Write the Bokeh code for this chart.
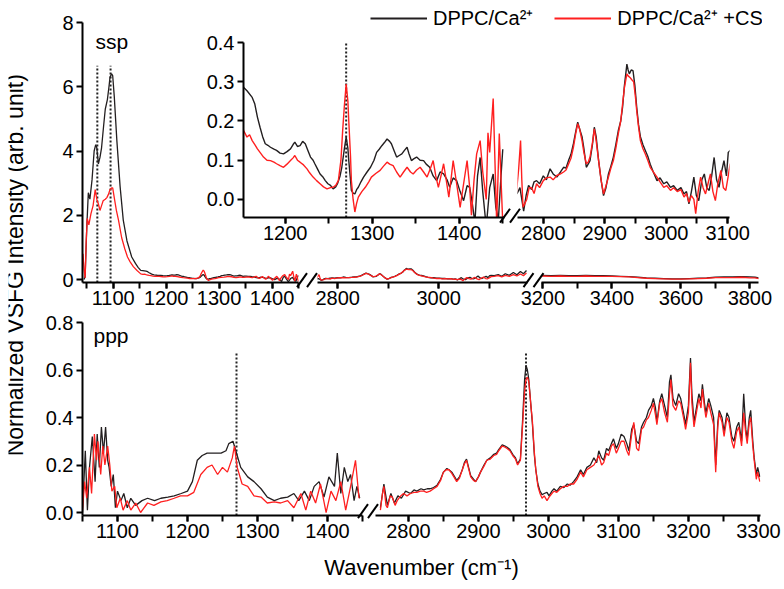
import numpy as np
from math import pi
from bokeh.plotting import figure
from bokeh.models import (Column, Range1d, LinearAxis, SingleIntervalTicker, FixedTicker,
                          PrintfTickFormatter, Label, Legend, LegendItem, Grid)
from bokeh.embed import file_html
from bokeh.resources import INLINE

FONT = "Liberation Sans"
BLACK = "#231f20"
RED = "#ff1f1f"

# ---------------- data (wavenumber, intensity) ----------------
# ssp, low-frequency segment (1042-1450)
ssp_black_A = [
    (1045, 0.0), (1047, 0.1), (1050, 1.6), (1053, 2.7), (1056, 2.5), (1060, 3.1), (1064, 4.0),
    (1067, 4.2), (1069, 4.1), (1072, 3.6), (1075, 3.8), (1078, 4.1), (1082, 4.8), (1085, 5.3),
    (1089, 5.6), (1092, 6.0), (1094, 6.3), (1097, 6.4), (1099, 6.35), (1102, 5.7), (1107, 4.3),
    (1113, 2.9), (1119, 1.85), (1126, 1.2), (1135, 0.7), (1142, 0.5), (1147, 0.38),
    (1152, 0.286), (1156, 0.277), (1162, 0.26), (1165, 0.243), (1168, 0.21), (1171, 0.184),
    (1174, 0.16), (1177, 0.142), (1180, 0.138), (1183, 0.133), (1187, 0.128), (1190, 0.125),
    (1194, 0.118), (1198, 0.116), (1202, 0.122), (1206, 0.129), (1209, 0.14), (1211, 0.146),
    (1214, 0.135), (1217, 0.137), (1220, 0.148), (1223, 0.142), (1226, 0.125), (1229, 0.108),
    (1232, 0.1), (1234, 0.091), (1237, 0.078), (1240, 0.065), (1243, 0.058), (1246, 0.048),
    (1249, 0.04), (1252, 0.036), (1255, 0.027), (1258, 0.032), (1260, 0.04), (1263, 0.06),
    (1265, 0.082), (1268, 0.13), (1270, 0.159), (1272, 0.13), (1273, 0.099), (1275, 0.05),
    (1276, 0.023), (1278, 0.016), (1280, 0.014), (1282, 0.025), (1284, 0.031), (1287, 0.045),
    (1290, 0.057), (1294, 0.07), (1298, 0.082), (1302, 0.1), (1305, 0.12), (1308, 0.128),
    (1311, 0.137), (1314, 0.145), (1317, 0.154), (1320, 0.148), (1322, 0.142), (1325, 0.125),
    (1328, 0.108), (1331, 0.112), (1334, 0.116), (1337, 0.125), (1340, 0.133), (1342, 0.118),
    (1345, 0.099), (1348, 0.104), (1351, 0.108), (1355, 0.1), (1359, 0.099), (1362, 0.09),
    (1366, 0.082), (1370, 0.06), (1374, 0.048), (1378, 0.07), (1382, 0.065), (1386, 0.05),
    (1389, 0.031), (1393, 0.055), (1397, 0.048), (1401, 0.02), (1405, -0.003), (1409, 0.035),
    (1412, 0.031), (1415, -0.01), (1418, -0.06), (1421, 0.06), (1424, 0.107), (1427, 0.02),
    (1431, -0.07), (1435, 0.03), (1439, 0.065), (1442, -0.02), (1445, -0.05), (1448, 0.06),
    (1450, 0.128),
]
ssp_red_A = [
    (1043, 0.8), (1045, 0.3), (1047, 0.05), (1049, 1.2), (1051, 1.9), (1054, 1.7), (1058, 2.05),
    (1062, 2.3), (1066, 2.8), (1069, 2.5), (1072, 2.35), (1075, 2.15), (1078, 2.3), (1081, 2.45),
    (1085, 2.5), (1088, 2.55), (1091, 2.65), (1094, 2.8), (1097, 2.85), (1099, 2.85), (1103, 2.45),
    (1106, 2.15), (1110, 1.85), (1116, 1.3), (1122, 0.95), (1127, 0.7), (1132, 0.55), (1138, 0.4),
    (1145, 0.28),
    (1152, 0.176), (1156, 0.159), (1159, 0.165), (1162, 0.15), (1165, 0.14), (1168, 0.129),
    (1171, 0.12), (1175, 0.108), (1179, 0.1), (1183, 0.099), (1187, 0.095), (1190, 0.091),
    (1194, 0.086), (1198, 0.082), (1202, 0.09), (1206, 0.099), (1209, 0.106), (1211, 0.112),
    (1214, 0.1), (1217, 0.095), (1221, 0.088), (1225, 0.078), (1228, 0.068), (1232, 0.057),
    (1236, 0.048), (1240, 0.04), (1244, 0.032), (1248, 0.027), (1252, 0.03), (1255, 0.031),
    (1258, 0.036), (1261, 0.048), (1264, 0.1), (1266, 0.176), (1268, 0.24), (1270, 0.294),
    (1272, 0.25), (1273, 0.2), (1275, 0.11), (1276, 0.048), (1278, 0.0), (1280, -0.032),
    (1282, -0.01), (1284, 0.006), (1288, 0.02), (1292, 0.031), (1296, 0.045), (1299, 0.057),
    (1304, 0.066), (1309, 0.074), (1313, 0.085), (1317, 0.095), (1320, 0.09), (1324, 0.086),
    (1328, 0.07), (1332, 0.057), (1336, 0.07), (1340, 0.082), (1344, 0.07), (1347, 0.065),
    (1351, 0.075), (1355, 0.082), (1359, 0.07), (1363, 0.057), (1367, 0.08), (1370, 0.099),
    (1373, 0.06), (1376, 0.031), (1379, 0.06), (1382, 0.091), (1385, 0.05), (1388, 0.006),
    (1391, 0.06), (1393, 0.099), (1397, 0.04), (1401, -0.02), (1405, 0.04), (1409, 0.099),
    (1412, 0.03), (1414, -0.04), (1417, 0.05), (1420, 0.116), (1424, 0.15), (1427, 0.07),
    (1431, 0.0), (1433, 0.17), (1435, 0.12), (1439, 0.257), (1441, 0.1), (1443, -0.06),
    (1446, 0.168), (1448, 0.05), (1450, -0.06),
]
# ssp, C-H segment (2756-3176)
ssp_black_B = [
    (2757, 0.014), (2762, 0.03), (2768, -0.03), (2772, 0.01), (2776, 0.036), (2781, 0.025),
    (2785, 0.045), (2789, 0.048), (2794, 0.04), (2800, 0.06), (2805, 0.05), (2811, 0.078),
    (2816, 0.065), (2822, 0.057), (2828, 0.07), (2833, 0.082), (2837, 0.08), (2841, 0.099),
    (2845, 0.115), (2849, 0.142), (2853, 0.175), (2856, 0.197), (2859, 0.18), (2863, 0.16),
    (2866, 0.13), (2870, 0.082), (2873, 0.09), (2876, 0.099), (2880, 0.14), (2883, 0.184),
    (2886, 0.16), (2890, 0.099), (2894, 0.05), (2898, 0.01), (2902, 0.03), (2906, 0.065),
    (2910, 0.085), (2914, 0.108), (2918, 0.14), (2922, 0.175), (2926, 0.2), (2929, 0.235),
    (2932, 0.29), (2936, 0.345), (2938, 0.33), (2940, 0.32), (2943, 0.33), (2946, 0.328),
    (2949, 0.29), (2952, 0.235), (2955, 0.19), (2958, 0.16), (2962, 0.14), (2966, 0.125),
    (2970, 0.11), (2974, 0.09), (2979, 0.07), (2985, 0.048), (2990, 0.055), (2996, 0.04),
    (3001, 0.045), (3007, 0.031), (3012, 0.035), (3018, 0.023), (3024, 0.03), (3029, 0.014),
    (3033, 0.02), (3037, -0.011), (3041, 0.02), (3045, 0.057), (3049, 0.01), (3053, -0.003),
    (3058, 0.05), (3062, 0.065), (3066, 0.03), (3070, 0.023), (3074, 0.06), (3078, 0.107),
    (3082, 0.05), (3086, 0.031), (3090, 0.07), (3094, 0.099), (3098, 0.06), (3101, 0.12),
    (3104, 0.125), (3110, 0.12), (3118, 0.15), (3125, 0.1), (3132, 0.18), (3140, 0.13),
    (3148, 0.22), (3155, 0.15), (3162, 0.25), (3168, 0.18), (3174, 0.28),
]
ssp_red_B = [
    (2756, 0.014), (2760, 0.08), (2763, 0.15), (2765, 0.05), (2767, -0.02), (2770, -0.01),
    (2773, 0.0), (2777, 0.03), (2781, 0.03), (2785, 0.015), (2789, 0.04), (2794, 0.03),
    (2800, 0.048), (2805, 0.055), (2811, 0.057), (2816, 0.05), (2822, 0.061), (2828, 0.065),
    (2833, 0.07), (2837, 0.075), (2841, 0.09), (2845, 0.105), (2849, 0.133), (2853, 0.17),
    (2856, 0.193), (2859, 0.18), (2863, 0.15), (2866, 0.12), (2870, 0.091), (2873, 0.095),
    (2876, 0.108), (2880, 0.145), (2883, 0.18), (2886, 0.15), (2890, 0.099), (2894, 0.05),
    (2898, 0.014), (2902, 0.035), (2906, 0.057), (2910, 0.08), (2914, 0.099), (2918, 0.13),
    (2922, 0.167), (2926, 0.2), (2929, 0.243), (2932, 0.285), (2936, 0.32), (2938, 0.315),
    (2941, 0.311), (2944, 0.305), (2947, 0.3), (2950, 0.26), (2952, 0.226), (2955, 0.185),
    (2958, 0.15), (2962, 0.13), (2966, 0.116), (2970, 0.1), (2974, 0.082), (2979, 0.07),
    (2985, 0.057), (2990, 0.045), (2996, 0.031), (3001, 0.035), (3007, 0.023), (3012, 0.03),
    (3018, 0.02), (3024, 0.025), (3029, 0.006), (3033, 0.015), (3037, -0.007), (3041, 0.01),
    (3045, 0.0), (3048, -0.036), (3052, 0.02), (3056, 0.057), (3060, 0.03), (3064, 0.014),
    (3068, 0.04), (3072, 0.065), (3076, 0.02), (3080, -0.003), (3084, 0.04), (3089, 0.074),
    (3093, 0.03), (3097, 0.023), (3101, 0.06), (3104, 0.09), (3110, 0.1), (3118, 0.12),
    (3125, 0.08), (3132, 0.13), (3140, 0.1), (3148, 0.15), (3155, 0.11), (3162, 0.17),
    (3168, 0.12), (3174, 0.2),
]
# ssp, O-H segment (3196-3826)
ssp_black_C = [
    (3196, 0.13), (3225, 0.12), (3250, 0.13), (3275, 0.12), (3300, 0.12), (3325, 0.13),
    (3350, 0.12), (3375, 0.12), (3400, 0.11), (3425, 0.1), (3450, 0.09), (3475, 0.07),
    (3500, 0.05), (3525, 0.04), (3550, 0.03), (3575, 0.02), (3600, 0.02), (3625, 0.03),
    (3650, 0.04), (3675, 0.05), (3700, 0.07), (3725, 0.08), (3750, 0.08), (3775, 0.09),
    (3800, 0.08), (3815, 0.07), (3826, 0.05),
]
ssp_red_C = [
    (3196, 0.11), (3225, 0.1), (3250, 0.11), (3275, 0.1), (3300, 0.1), (3325, 0.11),
    (3350, 0.1), (3375, 0.1), (3400, 0.1), (3425, 0.09), (3450, 0.08), (3475, 0.06),
    (3500, 0.04), (3525, 0.03), (3550, 0.02), (3575, 0.01), (3600, 0.01), (3625, 0.02),
    (3650, 0.03), (3675, 0.04), (3700, 0.06), (3725, 0.06), (3750, 0.06), (3775, 0.07),
    (3800, 0.05), (3815, 0.05), (3826, 0.03),
]
# ppp, low-frequency segment
ppp_black_A = [
    (1050, 0.0), (1054, 0.26), (1057, 0.01), (1060, 0.19), (1064, 0.32), (1068, 0.13),
    (1071, 0.33), (1074, 0.19), (1077, 0.36), (1080, 0.25), (1083, 0.36), (1086, 0.22),
    (1088, 0.19), (1091, 0.11), (1094, 0.16), (1097, 0.02), (1100, 0.09), (1105, 0.05),
    (1109, 0.08), (1114, 0.02), (1119, 0.06), (1126, 0.03), (1135, 0.05), (1143, 0.06),
    (1153, 0.05), (1162, 0.06), (1172, 0.065), (1181, 0.07), (1191, 0.08), (1200, 0.09),
    (1207, 0.13), (1214, 0.22), (1221, 0.24), (1228, 0.25), (1238, 0.25), (1248, 0.25),
    (1255, 0.26), (1259, 0.29), (1265, 0.3), (1269, 0.26), (1276, 0.19), (1286, 0.15),
    (1295, 0.13), (1305, 0.1), (1314, 0.065), (1324, 0.05), (1333, 0.06), (1343, 0.065),
    (1352, 0.08), (1359, 0.05), (1367, 0.09), (1374, 0.05), (1381, 0.11), (1388, 0.13),
    (1395, 0.065), (1402, 0.15), (1410, 0.11), (1414, 0.25), (1419, 0.08), (1424, 0.19),
    (1429, 0.13), (1433, 0.16), (1438, 0.05), (1442, 0.11), (1446, 0.06),
]
ppp_red_A = [
    (1050, 0.01), (1053, 0.13), (1056, 0.06), (1060, 0.19), (1063, 0.08), (1067, 0.33),
    (1070, 0.22), (1072, 0.3), (1076, 0.16), (1079, 0.28), (1082, 0.2), (1086, 0.28),
    (1089, 0.2), (1092, 0.09), (1096, 0.11), (1099, 0.02), (1104, 0.06), (1108, 0.01),
    (1114, 0.05), (1119, 0.01), (1126, 0.04), (1133, 0.0), (1143, 0.04), (1152, 0.03),
    (1162, 0.045), (1171, 0.05), (1181, 0.06), (1190, 0.07), (1200, 0.07), (1209, 0.085),
    (1219, 0.16), (1228, 0.19), (1235, 0.2), (1243, 0.16), (1250, 0.19), (1257, 0.17),
    (1264, 0.23), (1267, 0.28), (1271, 0.19), (1278, 0.12), (1286, 0.11), (1295, 0.07),
    (1305, 0.065), (1314, 0.04), (1324, 0.045), (1333, 0.04), (1343, 0.05), (1352, 0.02),
    (1362, 0.08), (1369, 0.01), (1376, 0.09), (1383, 0.04), (1390, 0.12), (1398, 0.0),
    (1405, 0.09), (1412, 0.05), (1419, 0.13), (1426, 0.01), (1433, 0.11), (1440, 0.22),
    (1445, 0.06),
]
# ppp, C-H / O-H segment
ppp_black_B = [
    (2760, 0.02), (2765, 0.12), (2770, 0.03), (2775, 0.08), (2780, 0.04), (2785, 0.07),
    (2790, 0.06), (2796, 0.09), (2803, 0.08), (2808, 0.095), (2812, 0.09), (2818, 0.1),
    (2822, 0.095), (2827, 0.1), (2831, 0.1), (2836, 0.105), (2841, 0.115), (2846, 0.14),
    (2850, 0.17), (2855, 0.185), (2858, 0.18), (2862, 0.17), (2865, 0.155), (2869, 0.135),
    (2873, 0.15), (2877, 0.18), (2880, 0.21), (2883, 0.225), (2886, 0.19), (2889, 0.155),
    (2893, 0.14), (2896, 0.13), (2900, 0.15), (2903, 0.17), (2908, 0.2), (2912, 0.22),
    (2917, 0.23), (2922, 0.245), (2926, 0.25), (2929, 0.265), (2934, 0.285), (2938, 0.28),
    (2941, 0.275), (2945, 0.265), (2949, 0.245), (2953, 0.23), (2956, 0.205), (2960, 0.225),
    (2963, 0.38), (2966, 0.56), (2968, 0.62), (2970, 0.6), (2972, 0.56), (2975, 0.45),
    (2977, 0.38), (2980, 0.24), (2982, 0.18), (2985, 0.12), (2988, 0.09), (2991, 0.075),
    (2994, 0.08), (2998, 0.085), (3001, 0.07), (3005, 0.09), (3008, 0.1), (3012, 0.09),
    (3017, 0.11), (3022, 0.105), (3027, 0.12), (3031, 0.115), (3036, 0.13), (3041, 0.15),
    (3046, 0.18), (3050, 0.16), (3055, 0.19), (3060, 0.2), (3065, 0.23), (3069, 0.21),
    (3072, 0.26), (3076, 0.23), (3079, 0.22), (3083, 0.27), (3086, 0.26), (3090, 0.29),
    (3093, 0.31), (3097, 0.27), (3100, 0.29), (3104, 0.33), (3108, 0.32), (3112, 0.29),
    (3115, 0.26), (3119, 0.35), (3122, 0.37), (3126, 0.3), (3129, 0.29), (3133, 0.36),
    (3136, 0.38), (3140, 0.4), (3143, 0.43), (3147, 0.45), (3150, 0.48), (3153, 0.44),
    (3155, 0.38), (3159, 0.47), (3162, 0.5), (3166, 0.45), (3170, 0.4), (3173, 0.55),
    (3175, 0.58), (3178, 0.48), (3182, 0.45), (3186, 0.5), (3189, 0.48), (3193, 0.42),
    (3196, 0.37), (3200, 0.45), (3203, 0.65), (3205, 0.5), (3208, 0.38), (3212, 0.45),
    (3215, 0.5), (3218, 0.47), (3220, 0.54), (3223, 0.46), (3225, 0.42), (3229, 0.48),
    (3232, 0.45), (3236, 0.4), (3239, 0.2), (3242, 0.38), (3244, 0.43), (3248, 0.4),
    (3251, 0.34), (3255, 0.42), (3258, 0.4), (3262, 0.32), (3265, 0.3), (3269, 0.36),
    (3272, 0.38), (3276, 0.3), (3279, 0.5), (3282, 0.35), (3284, 0.31), (3287, 0.4),
    (3289, 0.43), (3292, 0.3), (3294, 0.23), (3297, 0.16), (3299, 0.19), (3302, 0.15),
]
ppp_red_B = [
    (2760, 0.01), (2763, 0.08), (2765, 0.11), (2768, 0.03), (2770, 0.02), (2774, 0.07),
    (2777, 0.065), (2781, 0.03), (2784, 0.05), (2789, 0.07), (2793, 0.08), (2798, 0.07),
    (2803, 0.08), (2808, 0.085), (2812, 0.085), (2817, 0.09), (2822, 0.09), (2826, 0.085),
    (2831, 0.09), (2836, 0.1), (2841, 0.11), (2846, 0.135), (2850, 0.17), (2854, 0.18),
    (2858, 0.18), (2862, 0.165), (2865, 0.15), (2869, 0.13), (2873, 0.145), (2877, 0.18),
    (2880, 0.205), (2883, 0.22), (2886, 0.185), (2889, 0.15), (2893, 0.135), (2896, 0.13),
    (2900, 0.15), (2903, 0.17), (2908, 0.195), (2912, 0.22), (2917, 0.225), (2922, 0.24),
    (2926, 0.245), (2929, 0.26), (2934, 0.28), (2938, 0.275), (2941, 0.27), (2945, 0.26),
    (2949, 0.24), (2953, 0.225), (2956, 0.2), (2960, 0.22), (2963, 0.36), (2966, 0.51),
    (2968, 0.56), (2970, 0.57), (2972, 0.55), (2975, 0.45), (2977, 0.39), (2980, 0.25),
    (2982, 0.18), (2985, 0.11), (2988, 0.08), (2991, 0.06), (2994, 0.07), (2998, 0.05),
    (3001, 0.065), (3005, 0.08), (3008, 0.09), (3012, 0.085), (3017, 0.1), (3022, 0.11),
    (3027, 0.11), (3031, 0.12), (3036, 0.12), (3041, 0.14), (3046, 0.17), (3050, 0.15),
    (3055, 0.18), (3060, 0.19), (3065, 0.2), (3069, 0.22), (3072, 0.24), (3076, 0.2),
    (3079, 0.21), (3083, 0.25), (3086, 0.24), (3090, 0.28), (3093, 0.29), (3097, 0.25),
    (3100, 0.27), (3104, 0.3), (3108, 0.3), (3112, 0.26), (3115, 0.24), (3119, 0.33),
    (3122, 0.38), (3126, 0.27), (3129, 0.26), (3133, 0.35), (3136, 0.36), (3140, 0.39),
    (3143, 0.4), (3147, 0.43), (3150, 0.46), (3153, 0.41), (3155, 0.37), (3159, 0.46),
    (3162, 0.48), (3166, 0.42), (3170, 0.38), (3173, 0.5), (3175, 0.56), (3178, 0.45),
    (3182, 0.43), (3186, 0.47), (3189, 0.46), (3193, 0.4), (3196, 0.35), (3200, 0.42),
    (3203, 0.63), (3205, 0.46), (3208, 0.36), (3212, 0.43), (3215, 0.48), (3218, 0.44),
    (3220, 0.52), (3223, 0.44), (3225, 0.4), (3229, 0.46), (3232, 0.42), (3236, 0.37),
    (3239, 0.17), (3242, 0.36), (3244, 0.42), (3248, 0.38), (3251, 0.32), (3255, 0.4),
    (3258, 0.38), (3262, 0.3), (3265, 0.27), (3269, 0.34), (3272, 0.36), (3276, 0.28),
    (3279, 0.42), (3282, 0.33), (3284, 0.29), (3287, 0.38), (3289, 0.4), (3292, 0.28),
    (3294, 0.22), (3297, 0.14), (3299, 0.17), (3302, 0.13),
]
# dotted peak markers
ssp_markers = [1070, 1095]
ssp_marker_top = 6.65
inset_markers = [1270]
inset_marker_top = 0.4
ppp_markers = [1270, 2968]
ppp_marker_top = 0.67

ssp_yticks = [0, 2, 4, 6, 8]
inset_yticks = [0.0, 0.1, 0.2, 0.3, 0.4]
ppp_yticks = [0.0, 0.2, 0.4, 0.6, 0.8]

series_labels = ["DPPC/Ca\u00b2\u207a", "DPPC/Ca\u00b2\u207a +CS"]
x_title = "Wavenumber (cm\u207b\u00b9)"
y_title = "Normalized VSFG Intensity (arb. unit)"

# uniform left/right canvas borders (a Column aligns the side borders of its plots)
BT, BR, BBOT, BL = 14, 22, 40, 60


def unzip(pairs):
    a = np.array(pairs, dtype=float)
    return a[:, 0], a[:, 1]


def base_fig(box, xr, yr, bt=BT, bb=BBOT):
    """box = frame (left, top, right, bottom) in page pixels."""
    left, top, right, bottom = box
    f = figure(width=BL + (right - left) + BR, height=bt + (bottom - top) + bb,
               x_range=xr, y_range=yr, output_backend="svg", toolbar_location=None,
               min_border_top=bt, min_border_right=BR, min_border_bottom=bb, min_border_left=BL,
               background_fill_alpha=0, border_fill_alpha=0, outline_line_color=None,
               x_axis_location=None, y_axis_location=None)
    f.center = [c for c in f.center if not isinstance(c, Grid)]
    f.styles = {"position": "absolute", "left": f"{left - BL}px", "top": f"{top - bt}px"}
    return f


def style_axis(ax):
    ax.axis_line_width = 2
    ax.axis_line_color = "black"
    ax.major_tick_line_width = 2
    ax.minor_tick_line_width = 2
    ax.major_tick_line_color = "black"
    ax.minor_tick_line_color = "black"
    ax.major_tick_out = 6
    ax.major_tick_in = 0
    ax.minor_tick_out = 6
    ax.minor_tick_in = 0
    ax.major_label_text_font = FONT
    ax.major_label_text_font_size = "20px"
    ax.major_label_text_color = "black"
    ax.major_label_standoff = 2
    return ax


def add_x(f, interval):
    ax = style_axis(LinearAxis(ticker=SingleIntervalTicker(interval=interval, num_minor_ticks=2)))
    f.add_layout(ax, "below")


def add_y(f, ticks, fmt):
    ax = style_axis(LinearAxis(ticker=FixedTicker(ticks=ticks),
                               formatter=PrintfTickFormatter(format=fmt)))
    ax.major_label_standoff = 3
    f.add_layout(ax, "left")


def draw(f, black, red, lw=1.3):
    bx, by = unzip(black)
    rx, ry = unzip(red)
    f.line(bx, by, line_color=BLACK, line_width=lw)
    f.line(rx, ry, line_color=RED, line_width=lw)


def markers(f, xs, lo, hi):
    xs = np.array(xs, dtype=float)
    f.segment(x0=xs, y0=np.full(len(xs), lo), x1=xs, y1=np.full(len(xs), hi),
              line_color="#222222", line_width=2, line_dash="2 2")


# ---------------- frames (page boxes: left, top, right, bottom) ----------------
TA_box, TB_box, TC_box = (82, 22, 298, 282), (317, 22, 527, 282), (541, 22, 758, 282)
IA_box, IB_box = (243, 42, 504, 217), (517, 42, 729, 217)
BA_box, BB_box = (82, 322, 362, 515), (375, 322, 760, 515)

ssp_y = (-0.093, 8)
inset_y = (-0.046, 0.4)
ppp_y = (-0.0126, 0.8)

# top (ssp)
TA = base_fig(TA_box, Range1d(1042, 1450), Range1d(*ssp_y))
add_y(TA, ssp_yticks, "%d")
add_x(TA, 100)
markers(TA, ssp_markers, ssp_y[0], ssp_marker_top)
draw(TA, ssp_black_A, ssp_red_A)

TB = base_fig(TB_box, Range1d(2760, 3176), Range1d(*ssp_y))
add_x(TB, 200)
draw(TB, ssp_black_B, ssp_red_B)

TC = base_fig(TC_box, Range1d(3196, 3825), Range1d(*ssp_y))
add_x(TC, 200)
draw(TC, ssp_black_C, ssp_red_C)

# inset (ssp zoom)
IA = base_fig(IA_box, Range1d(1152, 1452), Range1d(*inset_y))
add_y(IA, inset_yticks, "%.1f")
add_x(IA, 100)
markers(IA, inset_markers, inset_y[0], inset_marker_top)
draw(IA, ssp_black_A, ssp_red_A, lw=1.4)

IB = base_fig(IB_box, Range1d(2758, 3103), Range1d(*inset_y))
add_x(IB, 100)
draw(IB, ssp_black_B, ssp_red_B, lw=1.4)

# bottom (ppp)
BA = base_fig(BA_box, Range1d(1050, 1450), Range1d(*ppp_y))
add_y(BA, ppp_yticks, "%.1f")
add_x(BA, 100)
markers(BA, ppp_markers, ppp_y[0], ppp_marker_top)
draw(BA, ppp_black_A, ppp_red_A)

BB = base_fig(BB_box, Range1d(2753, 3303), Range1d(*ppp_y))
add_x(BB, 100)
markers(BB, ppp_markers, ppp_y[0], ppp_marker_top)
draw(BB, ppp_black_B, ppp_red_B)

# overlay in page pixels (canvas must stay within 768 px): titles, panel names, break marks
OV_box = (8, 8, 8 + 768 - BL - BR, 586)
OV = base_fig(OV_box, Range1d(OV_box[0], OV_box[2]), Range1d(OV_box[3], OV_box[1]), bt=0, bb=0)
OV.add_layout(Label(x=14, y=267, text=y_title, angle=pi / 2, text_align="center",
                    text_baseline="middle", text_font=FONT, text_font_size="23px",
                    text_color="black"))
OV.add_layout(Label(x=421, y=572, text=x_title, text_align="center", text_baseline="middle",
                    text_font=FONT, text_font_size="22px", text_color="black"))
OV.add_layout(Label(x=95, y=41, text="ssp", text_baseline="alphabetic",
                    text_font=FONT, text_font_size="21px", text_color="black"))
OV.add_layout(Label(x=93, y=338, text="ppp", text_baseline="alphabetic",
                    text_font=FONT, text_font_size="21px", text_color="black"))

gaps = [(TA_box, TB_box), (TB_box, TC_box), (IA_box, IB_box), (BA_box, BB_box)]
cx = np.array([(a[2] + b[0]) / 2 for a, b in gaps])
cy = np.array([a[3] for a, b in gaps], dtype=float)
bx0 = np.concatenate([cx - 11, cx - 1])
bx1 = np.concatenate([cx - 1, cx + 9])
by0 = np.concatenate([cy + 7, cy + 7])
by1 = np.concatenate([cy - 7, cy - 7])
OV.segment(x0=bx0, y0=by0, x1=bx1, y1=by1, line_color="black", line_width=2)

# legend (its renderers hold real series data, which lie outside this frame's ranges)
LG = base_fig((370, 4, 762, 28), Range1d(0, 1), Range1d(0, 1), bt=0, bb=0)
r1 = LG.line(*unzip(ssp_black_C), line_color=BLACK, line_width=2)
r2 = LG.line(*unzip(ssp_red_C), line_color=RED, line_width=2)
legend = Legend(items=[LegendItem(label=series_labels[0], renderers=[r1]),
                       LegendItem(label=series_labels[1], renderers=[r2])],
                location="top_left", orientation="horizontal", glyph_width=57, glyph_height=20,
                label_standoff=6, spacing=21, padding=0, margin=0, border_line_color=None,
                background_fill_alpha=0, label_text_font=FONT, label_text_font_size="20px",
                label_text_color="black")
LG.add_layout(legend)

figs = [TA, TB, TC, IA, IB, BA, BB, OV, LG]
root = Column(children=figs, width=768, height=573, sizing_mode="fixed")

open("out.html", "w").write(file_html(root, INLINE))
